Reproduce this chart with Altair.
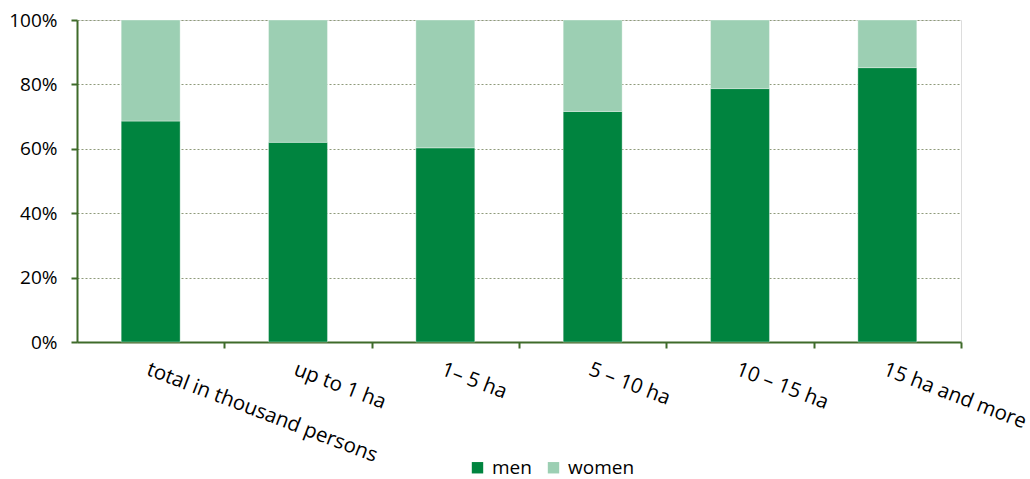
import altair as alt
import pandas as pd

# Farm size classes and share of men / women among the workforce (%)
categories = [
    "total in thousand persons",
    "up to 1 ha",
    "1– 5 ha",
    "5 – 10 ha",
    "10 – 15 ha",
    "15 ha and more",
]
men = [68.6, 62.0, 60.3, 71.6, 78.7, 85.2]
women = [round(100 - m, 1) for m in men]

series = ["men", "women"]
colors = ["#00843F", "#9CCFB3"]

rows = []
for c, m, w in zip(categories, men, women):
    rows.append({"category": c, "sex": "men", "share": m, "order": 0})
    rows.append({"category": c, "sex": "women", "share": w, "order": 1})
df = pd.DataFrame(rows)

axis_color = "#3F6B2A"
text_color = "#000000"
font = "Open Sans"
font_size = 19
plot_w, plot_h = 884, 322
half_step = plot_w / len(categories) / 2

chart = (
    alt.Chart(df)
    .mark_bar(stroke="white", strokeOpacity=0.35, strokeWidth=1)
    .encode(
        x=alt.X(
            "category:N",
            sort=categories,
            scale=alt.Scale(paddingInner=0.6, paddingOuter=0.3),
            axis=alt.Axis(
                title=None,
                labelAngle=21,
                labelAlign="left",
                labelBaseline="top",
                labelPadding=11,
                labelFontSize=20.5,
                labelFont=font,
                labelColor=text_color,
                labelLimit=0,
                labelOffset=-half_step,
                tickOffset=half_step,
                tickSize=6,
                tickColor=axis_color,
                tickWidth=2,
                domainColor=axis_color,
                domainWidth=2,
                grid=False,
                gridOpacity=0,
            ),
        ),
        y=alt.Y(
            "share:Q",
            stack="zero",
            scale=alt.Scale(domain=[0, 100], nice=False),
            axis=alt.Axis(
                title=None,
                values=[0, 20, 40, 60, 80, 100],
                labelExpr="datum.value + '%'",
                labelFontSize=font_size,
                labelFont=font,
                labelColor=text_color,
                labelPadding=14,
                tickSize=6,
                tickColor=axis_color,
                tickWidth=2,
                domainColor=axis_color,
                domainWidth=2,
                grid=True,
                gridColor="#8E9A7A",
                gridDash=[2, 2],
                gridWidth=1,
            ),
        ),
        color=alt.Color(
            "sex:N",
            scale=alt.Scale(domain=series, range=colors),
            legend=alt.Legend(
                title=None,
                orient="none",
                direction="horizontal",
                legendX=391,
                legendY=438,
                symbolType="square",
                symbolSize=130,
                symbolStrokeWidth=0,
                labelFontSize=font_size,
                labelFont=font,
                labelColor=text_color,
                columnPadding=12,
                labelOffset=5,
            ),
        ),
        order=alt.Order("order:Q", sort="ascending"),
    )
    .properties(
        width=plot_w,
        height=plot_h,
        autosize=alt.AutoSizeParams(type="none"),
        padding={"left": 77, "top": 20, "right": 69, "bottom": 137},
    )
    .configure_view(stroke="transparent", strokeOpacity=0, strokeWidth=0)
    .configure(background="white")
)

chart.save("out.html", embed_options={"renderer": "svg", "actions": False})
